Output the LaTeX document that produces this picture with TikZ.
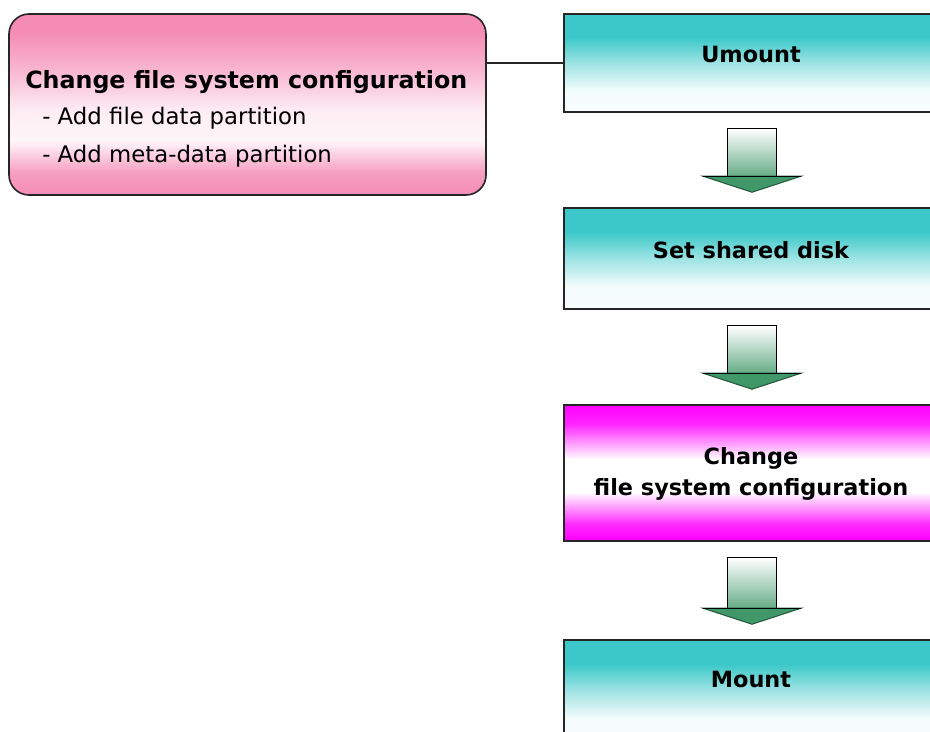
\documentclass[tikz,border=0pt]{standalone}
\usepackage{fontspec}
\setmainfont{DejaVu Sans}
\usetikzlibrary{fit,calc}
\definecolor{tealc}{RGB}{60,200,200}
\definecolor{pinkc}{RGB}{245,140,182}
\definecolor{magc}{RGB}{255,0,255}
\definecolor{greenc}{RGB}{64,152,104}
\pgfdeclareverticalshading{tealfade}{100bp}{color(0bp)=(tealc!3!white); color(25bp)=(tealc!3!white); color(36bp)=(tealc!6!white); color(50bp)=(tealc!50!white); color(63bp)=(tealc); color(100bp)=(tealc)}
\pgfdeclareverticalshading{magfade}{100bp}{color(0bp)=(magc); color(25bp)=(magc); color(31bp)=(magc!85!white); color(43bp)=(white); color(55bp)=(white); color(68bp)=(magc!85!white); color(75bp)=(magc); color(100bp)=(magc)}
\pgfdeclareverticalshading{pinkfade}{100bp}{color(0bp)=(pinkc); color(25bp)=(pinkc); color(31bp)=(pinkc!85!white); color(40bp)=(pinkc!8!white); color(48bp)=(pinkc!15!white); color(60bp)=(pinkc!65!white); color(70bp)=(pinkc); color(100bp)=(pinkc)}
\tikzset{
  stepbox/.style={draw=black!85, line width=1.2pt, inner sep=0pt},
  boxlabel/.style={font=\fontsize{16.8}{23.25}\selectfont\bfseries, align=center, inner sep=0pt, anchor=base},
  subline/.style={font=\fontsize{17.1}{20}\selectfont, inner sep=0pt, anchor=base west},
  shaftstyle/.style={draw=black, line width=1pt, top color=white, bottom color=greenc!80!white},
  headstyle/.style={fill=greenc, draw=greenc!60!black, line width=0.8pt},
}
\newcommand\flowarr[2]{%
  \path[shaftstyle] let \p1=(#1.south), \p2=(#2.north) in
    (\x1-17.6pt,\y1-12pt) rectangle (\x1+19.2pt,\y2+23.25pt);
  \path[headstyle] let \p1=(#1.south), \p2=(#2.north) in
    (\x1-36pt,\y2+23.25pt) -- (\x1+0.75pt,\y2+11.25pt) -- (\x1+37.5pt,\y2+23.25pt) -- cycle;
  \draw[black, line width=1pt] let \p1=(#1.south), \p2=(#2.north) in
    (\x1-36pt,\y2+23.25pt) -- (\x1+37.5pt,\y2+23.25pt);
}
\begin{document}
\begin{tikzpicture}[x=0.75pt, y=-0.75pt]
\useasboundingbox (0,0) rectangle (930,731);
\clip (0,0) rectangle (930,731);
\fill[white] (0,0) rectangle (930,731);
% left note box
\node[stepbox, rounded corners=15pt, shading=pinkfade, shade, fit={(9,14)(486,195)}] (note) {};
\node[font=\fontsize{17.8}{20}\selectfont\bfseries, inner sep=0pt, anchor=base west] (notetitle) at (25,89) {Change file system configuration};
\node[subline] (note1) at (42,125) {- Add file data partition};
\node[subline] (note2) at (42,162) {- Add meta-data partition};
% right flow boxes
\node[stepbox, shading=tealfade, shade, fit={(564,14)(938,112)}] (umount) {};
\node[stepbox, shading=tealfade, shade, fit={(564,208)(938,309)}] (setdisk) {};
\node[stepbox, shading=magfade, shade, fit={(564,405)(938,541)}] (change) {};
\node[stepbox, shading=tealfade, shade, fit={(564,640)(938,740)}] (mount) {};
\node[boxlabel] (l1) at (umount.center) {Umount};
\node[boxlabel] (l2) at (setdisk.center) {Set shared disk};
\node[boxlabel] (l3) at ($(change.center)+(0,22)$) {Change\\file system configuration};
\node[boxlabel] (l4) at ($(mount.north)+(0,48)$) {Mount};
% connector
\draw[black!85, line width=1.2pt] (umount.west) -- (umount.west -| note.east);
% flow arrows
\flowarr{umount}{setdisk}
\flowarr{setdisk}{change}
\flowarr{change}{mount}
\end{tikzpicture}
\end{document}
